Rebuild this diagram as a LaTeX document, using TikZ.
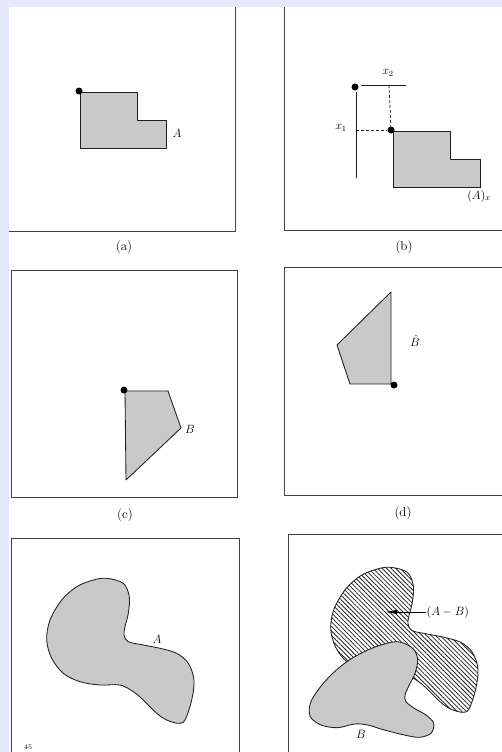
\documentclass[tikz,border=0pt]{standalone}
\usetikzlibrary{patterns.meta,arrows.meta}
\definecolor{lav}{HTML}{E3E8FA}
\definecolor{regiongray}{HTML}{C9C9C9}
\begin{document}
\begin{tikzpicture}[x=1pt,y=-1pt,
 frame/.style={line width=1pt, draw=black!75},
 region/.style={fill=regiongray, draw=black!88, line width=0.85pt, line join=round},
 hatched/.style={pattern={Lines[angle=-45,distance=3.2pt,line width=0.8pt]}, pattern color=black!85, draw=black!88, line width=0.85pt},
 dotpt/.style={circle, fill=black, inner sep=0pt, minimum size=7pt},
 lbl/.style={font=\fontsize{12}{14}\selectfont, inner sep=1pt},
 captxt/.style={font=\fontsize{13}{15}\selectfont, inner sep=1pt},
 guide/.style={line width=0.85pt, draw=black!88},
 dashguide/.style={line width=0.75pt, dash pattern=on 3pt off 2pt, draw=black!88}]
\useasboundingbox (0,0) rectangle (502,752);
\fill[lav] (0,0) rectangle (502,752);
\fill[white] (8.5,7) rectangle (502,752);
\def\blobA{(106.7,578.3) (123.3,583.3) (129.3,596.7) (128.3,613.3) (125,626.7) (124,635) (128.3,641.7) (143.3,645) (160,648.3) (176.7,653.3) (188.3,663.3) (194,680) (191.7,700) (185,720) (178.3,723.3) (166.7,720) (156.7,713.3) (143.3,700) (133.3,691.7) (120,685) (100,685) (80,681.7) (63.3,673.3) (51.7,658.3) (46.7,640) (50,620) (61.7,600) (76.7,586.7) (93.3,580)}

% ---------- (a)
\draw[frame] (9,231) -- (235,231) -- (235,7);
\draw[region] (80,92) -- (137,92) -- (137,120) -- (166,120) -- (166,148) -- (80,148) -- cycle;
\node[dotpt] (adot) at (79,91) {};
\node[lbl] (alab) at (177,133) {$A$};
\node[captxt] (acap) at (124,247) {(a)};

% ---------- (b)
\draw[frame] (284,7) -- (284,230) -- (510,230);
\draw[region] (393,131) -- (450,131) -- (450,159) -- (480,159) -- (480,187) -- (393,187) -- cycle;
\node[dotpt] (bdot1) at (355,87) {};
\node[dotpt] (bdot2) at (391,130) {};
\coordinate (vtop) at (356,92);
\coordinate (vbot) at (356,178);
\coordinate (hleft) at (361,85);
\coordinate (hright) at (406,85);
\coordinate (hmid) at (389,85);
\coordinate (vmid) at (356,130);
\draw[guide] (vtop) -- (vbot);
\draw[guide] (hleft) -- (hright);
\draw[dashguide] (hmid) -- (bdot2);
\draw[dashguide] (vmid) -- (bdot2);
\node[lbl] (x2lab) at (388,73) {$x_2$};
\node[lbl] (x1lab) at (341,128) {$x_1$};
\node[lbl] (axlab) at (479,196) {$(A)_x$};
\node[captxt] (bcap) at (404,247) {(b)};

% ---------- (c)
\draw[frame] (11,270) rectangle (237,497);
\draw[region] (125,391) -- (168,391) -- (181,428) -- (126,480) -- cycle;
\node[dotpt] (cdot) at (124,390) {};
\node[lbl] (clab) at (190,429) {$B$};
\node[captxt] (ccap) at (125,515) {(c)};

% ---------- (d)
\draw[frame] (510,267) -- (284,267) -- (284,495) -- (510,495);
\draw[region] (391,292) -- (391,384) -- (350,384) -- (337,345) -- cycle;
\node[dotpt] (ddot) at (394,385) {};
\node[lbl] (dlab) at (415,341) {$\hat{B}$};
\node[captxt] (dcap) at (403,513) {(d)};

% ---------- (e)
\draw[frame] (11,760) -- (11,538) -- (239,538) -- (239,760);
\draw[region] plot[smooth cycle, tension=0.55] coordinates {\blobA};
\node[lbl] (elab) at (157,639) {$A$};
\node[font=\fontsize{7}{8}\selectfont, inner sep=0pt] (pnum) at (28,747) {45};

% ---------- (f)
\draw[frame] (288,760) -- (288,534) -- (510,534);
\begin{scope}[shift={(284,-11)}]
\draw[hatched] plot[smooth cycle, tension=0.55] coordinates {\blobA};
\end{scope}
\draw[region] plot[smooth cycle, tension=0.55] coordinates {(397.7,641.7) (407.7,645) (414.3,650) (417.7,660) (415,673.3) (409.3,685) (405,695) (406,701.7) (414.3,708.3) (426,715) (433.7,723.3) (431,733.3) (419.3,737.3) (404.3,735) (384.3,730) (367.7,725) (354.3,724) (337.7,727.7) (321,725) (310.3,716.7) (310.3,703.3) (319.3,688.3) (332.7,673.3) (349.3,660) (367.7,650) (384.3,644)};
\node[lbl, anchor=west, fill=white, inner sep=0.5pt] (ablab) at (426,612) {$(A-B)$};
\coordinate (abtip) at (385,612);
\draw[line width=0.85pt, -{Latex[length=12pt,width=4.5pt]}] (ablab.west) -- (abtip);
\node[lbl] (flab) at (361,734) {$B$};
\end{tikzpicture}
\end{document}
